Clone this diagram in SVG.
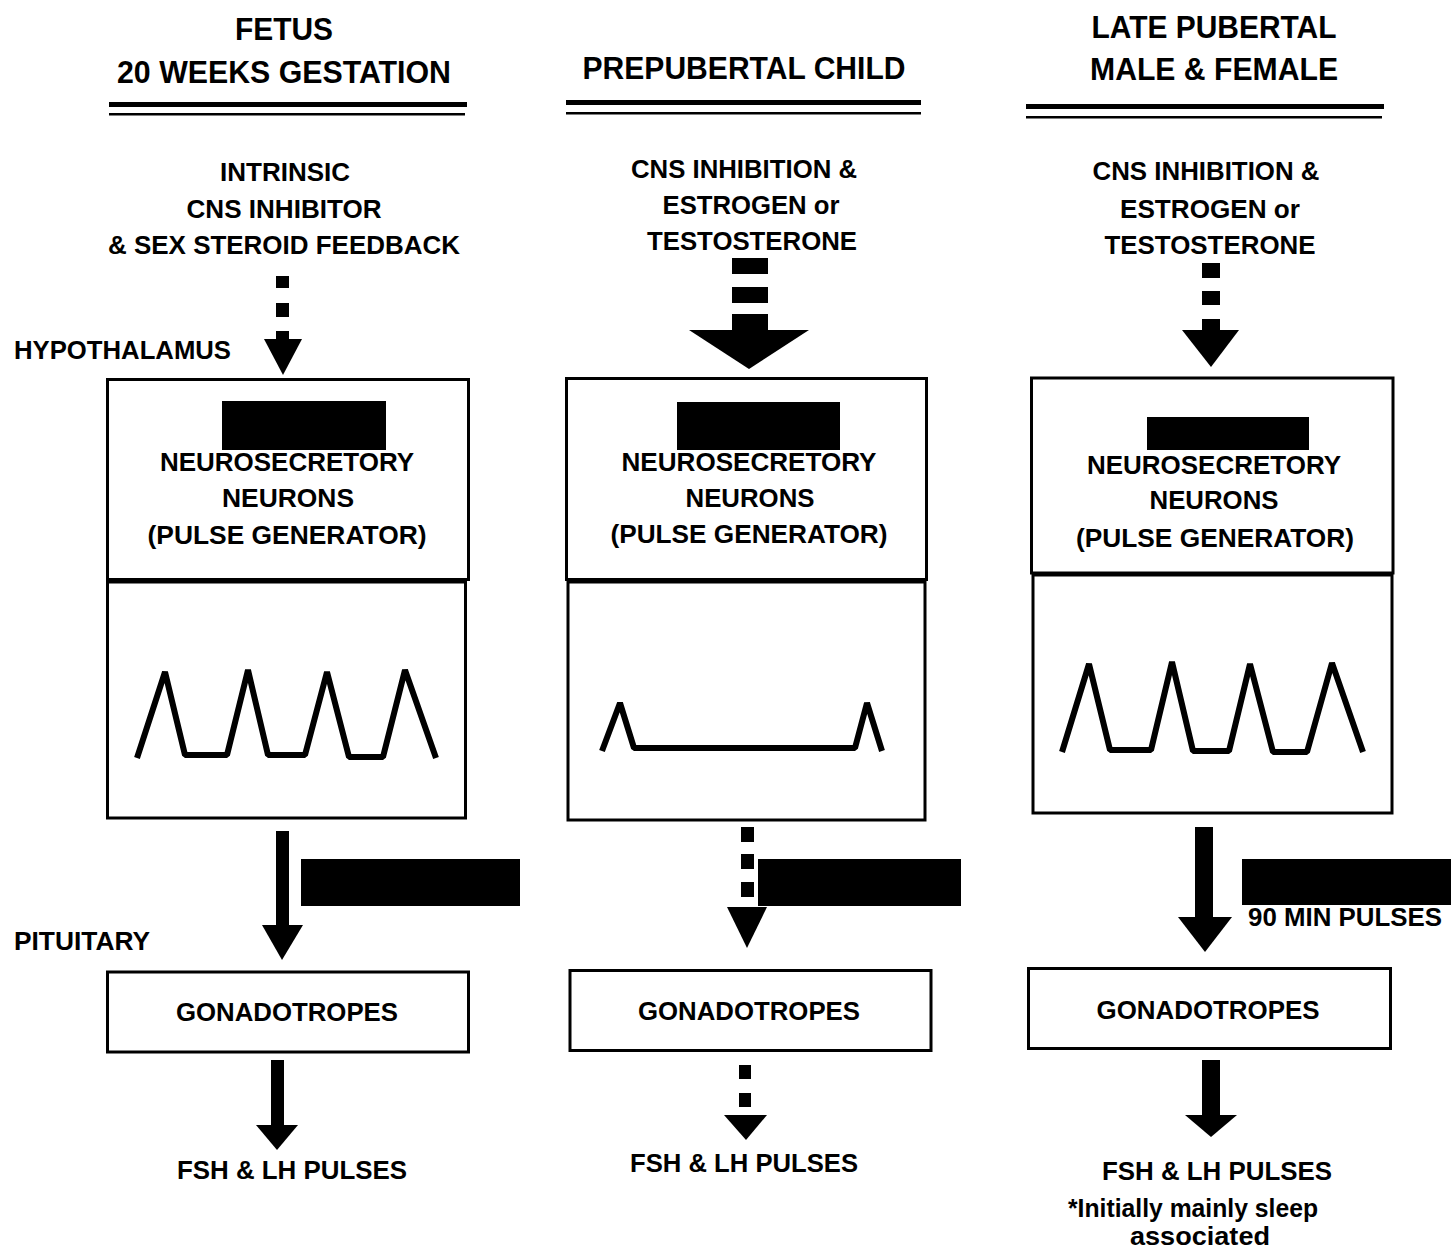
<svg xmlns="http://www.w3.org/2000/svg" width="1451" height="1251" viewBox="0 0 1451 1251">
<style>
text{font-family:"Liberation Sans",Arial,Helvetica,sans-serif;font-weight:bold;fill:#000;text-anchor:middle}
.t{font-size:32px}
.l{font-size:26px}
.s{font-size:25px}
.lab{text-anchor:start}
.box{fill:#fff;stroke:#000;stroke-width:3}
.ink{fill:#000}
.wave{fill:none;stroke:#000;stroke-width:6;stroke-linejoin:bevel;stroke-linecap:butt}
</style>
<rect width="1451" height="1251" fill="#fff"/>

<!-- Headers -->
<g id="header-fetus">
<text class="t" x="284" y="40" textLength="98" lengthAdjust="spacingAndGlyphs">FETUS</text>
<text class="t" x="284" y="83" textLength="334" lengthAdjust="spacingAndGlyphs">20 WEEKS GESTATION</text>
<rect class="ink" x="109" y="102" width="358" height="5"/>
<rect class="ink" x="109" y="113" width="356" height="2.5"/>
</g>
<g id="header-prepubertal">
<text class="t" x="744" y="79" textLength="323" lengthAdjust="spacingAndGlyphs">PREPUBERTAL CHILD</text>
<rect class="ink" x="566" y="100" width="355" height="5"/>
<rect class="ink" x="566" y="112" width="355" height="2.5"/>
</g>
<g id="header-late-pubertal">
<text class="t" x="1214" y="38" textLength="245" lengthAdjust="spacingAndGlyphs">LATE PUBERTAL</text>
<text class="t" x="1214" y="80" textLength="248" lengthAdjust="spacingAndGlyphs">MALE &amp; FEMALE</text>
<rect class="ink" x="1026" y="104" width="358" height="5"/>
<rect class="ink" x="1026" y="116" width="356" height="2.5"/>
</g>

<!-- Side labels -->
<g id="label-hypothalamus">
<text class="l lab" x="14" y="359" textLength="217" lengthAdjust="spacingAndGlyphs">HYPOTHALAMUS</text>
</g>
<g id="label-pituitary">
<text class="l lab" x="14" y="950" textLength="136" lengthAdjust="spacingAndGlyphs">PITUITARY</text>
</g>

<!-- Inputs -->
<g id="input-fetus">
<text class="l" x="285" y="181" textLength="130" lengthAdjust="spacingAndGlyphs">INTRINSIC</text>
<text class="l" x="284" y="218" textLength="195" lengthAdjust="spacingAndGlyphs">CNS INHIBITOR</text>
<text class="l" x="284" y="254" textLength="352" lengthAdjust="spacingAndGlyphs">&amp; SEX STEROID FEEDBACK</text>
</g>
<g id="input-prepubertal">
<text class="l" x="744" y="178" textLength="226" lengthAdjust="spacingAndGlyphs">CNS INHIBITION &amp;</text>
<text class="l" x="751" y="214" textLength="177" lengthAdjust="spacingAndGlyphs">ESTROGEN or</text>
<text class="l" x="752" y="250" textLength="210" lengthAdjust="spacingAndGlyphs">TESTOSTERONE</text>
</g>
<g id="input-late-pubertal">
<text class="l" x="1206" y="180" textLength="227" lengthAdjust="spacingAndGlyphs">CNS INHIBITION &amp;</text>
<text class="l" x="1210" y="218" textLength="180" lengthAdjust="spacingAndGlyphs">ESTROGEN or</text>
<text class="l" x="1210" y="254" textLength="211" lengthAdjust="spacingAndGlyphs">TESTOSTERONE</text>
</g>

<!-- Pulse generator nodes -->
<g id="pulse-generator-fetus">
<rect class="box" x="107.5" y="379.5" width="361" height="200"/>
<rect class="box" x="107.5" y="582" width="358" height="236"/>
<rect class="ink" x="222" y="401" width="164" height="49"/>
<text class="l" x="287" y="471" textLength="254" lengthAdjust="spacingAndGlyphs">NEUROSECRETORY</text>
<text class="l" x="288" y="507" textLength="132" lengthAdjust="spacingAndGlyphs">NEURONS</text>
<text class="l" x="287" y="544" textLength="279" lengthAdjust="spacingAndGlyphs">(PULSE GENERATOR)</text>
<polyline class="wave" points="137,758 165,672 185,755 227,755 248,670 268,755 305,755 327,672 349,757 383,757 405,670 436,758"/>
</g>
<g id="pulse-generator-prepubertal">
<rect class="box" x="566.5" y="378.5" width="360" height="201"/>
<rect class="box" x="568" y="582" width="357" height="238"/>
<rect class="ink" x="677" y="402" width="163" height="48"/>
<text class="l" x="749" y="471" textLength="255" lengthAdjust="spacingAndGlyphs">NEUROSECRETORY</text>
<text class="l" x="750" y="507" textLength="129" lengthAdjust="spacingAndGlyphs">NEURONS</text>
<text class="l" x="749" y="543" textLength="277" lengthAdjust="spacingAndGlyphs">(PULSE GENERATOR)</text>
<polyline class="wave" points="602,751 620,703 634,748 855,748 867,703 882,751"/>
</g>
<g id="pulse-generator-late-pubertal">
<rect class="box" x="1031.5" y="378" width="361.5" height="195"/>
<rect class="box" x="1033" y="575" width="359" height="238"/>
<rect class="ink" x="1147" y="417" width="162" height="33"/>
<text class="l" x="1214" y="474" textLength="254" lengthAdjust="spacingAndGlyphs">NEUROSECRETORY</text>
<text class="l" x="1214" y="509" textLength="129" lengthAdjust="spacingAndGlyphs">NEURONS</text>
<text class="l" x="1215" y="547" textLength="278" lengthAdjust="spacingAndGlyphs">(PULSE GENERATOR)</text>
<polyline class="wave" points="1062,752 1089,664 1110,750 1151,750 1172,662 1193,751 1229,751 1250,664 1273,752 1307,752 1332,663 1363,752"/>
</g>

<!-- Gonadotropes nodes -->
<g id="gonadotropes-fetus">
<rect class="box" x="107.5" y="972" width="361" height="80"/>
<text class="s" x="287" y="1021" textLength="222" lengthAdjust="spacingAndGlyphs">GONADOTROPES</text>
</g>
<g id="gonadotropes-prepubertal">
<rect class="box" x="570" y="970.5" width="361" height="80"/>
<text class="s" x="749" y="1020" textLength="222" lengthAdjust="spacingAndGlyphs">GONADOTROPES</text>
</g>
<g id="gonadotropes-late-pubertal">
<rect class="box" x="1028.5" y="968.5" width="362" height="80"/>
<text class="s" x="1208" y="1019" textLength="223" lengthAdjust="spacingAndGlyphs">GONADOTROPES</text>
</g>

<!-- Outputs -->
<g id="output-fetus">
<text class="s" x="292" y="1179" textLength="230" lengthAdjust="spacingAndGlyphs">FSH &amp; LH PULSES</text>
</g>
<g id="output-prepubertal">
<text class="s" x="744" y="1172" textLength="228" lengthAdjust="spacingAndGlyphs">FSH &amp; LH PULSES</text>
</g>
<g id="output-late-pubertal">
<text class="s" x="1217" y="1180" textLength="230" lengthAdjust="spacingAndGlyphs">FSH &amp; LH PULSES</text>
<text class="s" x="1193" y="1217" textLength="250" lengthAdjust="spacingAndGlyphs">*Initially mainly sleep</text>
<text class="s" x="1200" y="1245" textLength="140" lengthAdjust="spacingAndGlyphs">associated</text>
</g>

<!-- Connectors -->
<g id="connectors">
<!-- fetus: input -> hypothalamus (dashed) -->
<rect class="ink" x="276" y="276" width="13" height="12"/>
<rect class="ink" x="276" y="303" width="13" height="14"/>
<rect class="ink" x="276" y="331" width="13" height="9"/>
<polygon class="ink" points="264,339 302,339 283,375"/>
<!-- prepubertal: input -> hypothalamus (heavy dashed) -->
<rect class="ink" x="732" y="258" width="36" height="16"/>
<rect class="ink" x="732" y="287" width="36" height="16"/>
<rect class="ink" x="732" y="314" width="36" height="17"/>
<polygon class="ink" points="689,330 809,330 749,369"/>
<!-- late pubertal: input -> hypothalamus (dashed) -->
<rect class="ink" x="1202" y="263" width="18" height="15"/>
<rect class="ink" x="1202" y="291" width="18" height="14"/>
<rect class="ink" x="1202" y="319" width="18" height="12"/>
<polygon class="ink" points="1182,330 1239,330 1211,367"/>

<!-- fetus: hypothalamus -> pituitary (solid) -->
<rect class="ink" x="276" y="831" width="13" height="95"/>
<polygon class="ink" points="262,925 303,925 282,960"/>
<rect class="ink" x="301" y="859" width="219" height="47"/>
<!-- prepubertal: hypothalamus -> pituitary (dashed) -->
<rect class="ink" x="741" y="827" width="13" height="15"/>
<rect class="ink" x="741" y="854" width="13" height="15"/>
<rect class="ink" x="741" y="882" width="13" height="15"/>
<polygon class="ink" points="727,907 767,907 747,948"/>
<rect class="ink" x="758" y="859" width="203" height="47"/>
<!-- late pubertal: hypothalamus -> pituitary (solid) -->
<rect class="ink" x="1195" y="827" width="18" height="91"/>
<polygon class="ink" points="1178,917 1232,917 1205,952"/>
<text class="l lab" x="1248" y="926" textLength="194" lengthAdjust="spacingAndGlyphs">90 MIN PULSES</text>
<rect class="ink" x="1242" y="859" width="209" height="46"/>

<!-- fetus: gonadotropes -> output (solid) -->
<rect class="ink" x="271" y="1060" width="13" height="66"/>
<polygon class="ink" points="256,1125 298,1125 277,1150"/>
<!-- prepubertal: gonadotropes -> output (dashed) -->
<rect class="ink" x="739" y="1065" width="12" height="14"/>
<rect class="ink" x="739" y="1093" width="12" height="14"/>
<polygon class="ink" points="724,1115 767,1115 746,1140"/>
<!-- late pubertal: gonadotropes -> output (solid) -->
<rect class="ink" x="1202" y="1060" width="18" height="56"/>
<polygon class="ink" points="1185,1115 1237,1115 1211,1137"/>
</g>
</svg>
